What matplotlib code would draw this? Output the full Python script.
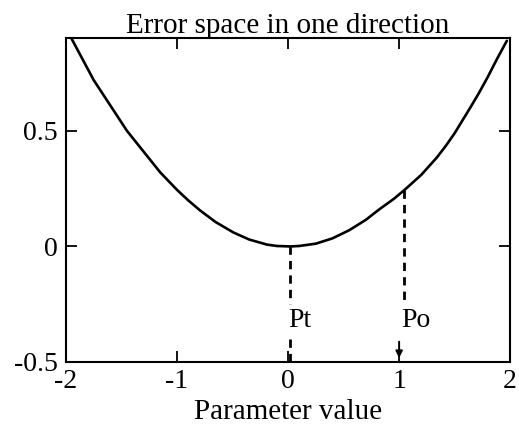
import matplotlib
matplotlib.use("Agg")
import matplotlib.pyplot as plt

plt.rcParams["font.family"] = ["Liberation Serif", "DejaVu Serif"]
plt.rcParams["axes.unicode_minus"] = False

# Error curve sampled along one parameter direction
param = [-1.95, -1.85, -1.75, -1.60, -1.45, -1.30, -1.15, -1.00, -0.90, -0.79,
         -0.65, -0.49, -0.35, -0.19, -0.10, 0.02, 0.10, 0.25, 0.40, 0.55,
         0.70, 0.82, 0.95, 1.05, 1.20, 1.34, 1.42, 1.50, 1.64, 1.72, 1.80,
         1.88, 1.97]
error = [0.90, 0.81, 0.72, 0.61, 0.50, 0.41, 0.32, 0.245, 0.20, 0.155,
         0.105, 0.06, 0.03, 0.008, 0.002, 0.0, 0.002, 0.012, 0.035, 0.07,
         0.115, 0.16, 0.205, 0.245, 0.31, 0.385, 0.435, 0.49, 0.60, 0.665, 0.735,
         0.81, 0.89]

# Marked parameter positions: true optimum and current estimate
marks = ["Pt", "Po"]
mark_x = [0.02, 1.04]
mark_err = [0.0, 0.245]

x_ticks = [-2, -1, 0, 1, 2]
x_tick_labels = ["-2", "-1", "0", "1", "2"]
y_ticks = [-0.5, 0, 0.5]
y_tick_labels = ["-0.5", "0", "0.5"]

fig = plt.figure(figsize=(5.19, 4.42), dpi=100)
ax = fig.add_axes([0.127, 0.181, 0.856, 0.732])

ax.plot(param, error, color="black", lw=1.9, solid_capstyle="round",
        solid_joinstyle="round")

ymin, ymax = -0.5, 0.9
label_y = -0.32
for name, mx, me in zip(marks, mark_x, mark_err):
    ax.plot([mx, mx], [me, label_y + 0.07], color="black", lw=2.0,
            linestyle=(0, (3, 2.2)))
    ax.text(mx - 0.02, label_y, name, fontsize=20, ha="left", va="center")

# lower segments below the labels
ax.plot([mark_x[0], mark_x[0]], [label_y - 0.08, ymin], color="black", lw=2.0,
        linestyle=(0, (3, 2.2)))
ax.annotate("", xy=(1.0, ymin + 0.005), xytext=(1.0, label_y - 0.08),
            arrowprops=dict(arrowstyle="-|>", color="black", lw=1.4,
                            mutation_scale=10))

ax.set_xlim(-2, 2)
ax.set_ylim(ymin, ymax)
ax.set_xticks(x_ticks)
ax.set_xticklabels(x_tick_labels)
ax.set_yticks(y_ticks)
ax.set_yticklabels(y_tick_labels)
ax.tick_params(direction="in", length=8, width=1.3, top=True, right=True,
               labelsize=20)
ax.tick_params(axis="y", pad=6)
ax.tick_params(axis="x", pad=5)
for s in ax.spines.values():
    s.set_linewidth(1.5)

ax.set_title("Error space in one direction", fontsize=21, pad=4)
ax.set_xlabel("Parameter value", fontsize=21, labelpad=4)

fig.savefig("out.png", dpi=100)
